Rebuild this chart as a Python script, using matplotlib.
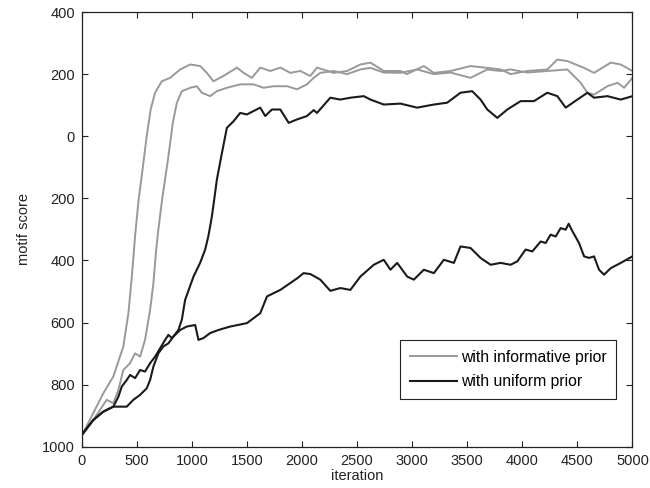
import matplotlib
matplotlib.use("Agg")
import matplotlib.pyplot as plt
from matplotlib.ticker import FixedLocator, FixedFormatter

plt.rcParams['font.family'] = ['Liberation Sans', 'DejaVu Sans']

# informative prior, run A
inf_a_iter = [0, 105, 196, 287, 378, 424, 455, 485, 515, 560, 590, 626, 666, 727, 803, 894, 985,
              1075, 1136, 1196, 1287, 1409, 1470, 1545, 1621, 1712, 1803, 1894, 1985, 2075, 2136,
              2288, 2409, 2530, 2621, 2742, 2894, 2952, 3106, 3197, 3348, 3530, 3682, 3803, 3894,
              4045, 4227, 4318, 4409, 4561, 4651, 4803, 4894, 5000]
inf_a_val = [-965, -892, -828, -774, -677, -570, -452, -320, -210, -86, 0, 86, 140, 177, 188, 215, 231,
             226, 204, 177, 194, 221, 204, 188, 221, 210, 221, 204, 210, 194, 221,
             204, 210, 231, 237, 210, 210, 200, 226, 204, 210, 226, 220, 215, 200,
             210, 215, 247, 242, 220, 204, 237, 231, 210]

# informative prior, run B
inf_b_iter = [0, 105, 227, 287, 333, 378, 439, 485, 530, 575, 621, 651, 676, 696, 730, 787, 827, 864,
              909, 985, 1045, 1091, 1166, 1227, 1318, 1439, 1560, 1651, 1742, 1864, 1955, 2045,
              2106, 2166, 2288, 2409, 2530, 2621, 2742, 2894, 3045, 3197, 3348, 3530, 3682, 3803,
              3894, 4045, 4227, 4409, 4530, 4591, 4651, 4773, 4864, 4924, 5000]
inf_b_val = [-965, -914, -849, -860, -817, -753, -731, -699, -710, -656, -559, -473, -365, -300, -204,
             -65, 43, 108, 145, 156, 161, 140, 129, 145, 156, 167, 167, 156, 161, 161, 151, 167,
             188, 204, 210, 200, 215, 220, 205, 204, 215, 200, 205, 188, 215, 210,
             215, 205, 210, 215, 172, 140, 134, 161, 172, 156, 188]

# uniform prior, run C
uni_c_iter = [0, 105, 196, 287, 348, 409, 469, 530, 590, 621, 651, 696, 742, 787, 833, 878, 909, 939,
              1015, 1075, 1121, 1151, 1182, 1203, 1227, 1273, 1318, 1378, 1439, 1500, 1560, 1621,
              1666, 1727, 1803, 1879, 1955, 2045, 2106, 2136, 2257, 2348, 2439, 2561, 2621, 2742,
              2894, 3045, 3197, 3318, 3439, 3545, 3621, 3682, 3773, 3864, 3985, 4106, 4227, 4318,
              4394, 4500, 4591, 4651, 4773, 4894, 5000]
uni_c_val = [-962, -914, -887, -871, -871, -871, -849, -833, -812, -785, -742, -699, -677, -667, -645,
             -624, -591, -527, -452, -408, -365, -320, -258, -204, -140, -54, 27, 48, 75, 70, 81, 92,
             65, 86, 86, 43, 54, 65, 84, 75, 124, 118, 124, 129, 118, 102,
             105, 92, 102, 108, 140, 145, 118, 86, 59, 86, 113, 113, 140, 129,
             92, 118, 140, 124, 129, 118, 129]

# uniform prior, run D
uni_d_iter = [0, 105, 196, 287, 333, 364, 409, 439, 485, 530, 575, 621, 666, 712, 757, 787, 818, 894,
              954, 1030, 1060, 1106, 1166, 1242, 1348, 1500, 1621, 1682, 1803, 1955, 2015, 2076,
              2166, 2257, 2348, 2439, 2530, 2652, 2742, 2803, 2864, 2955, 3015, 3106, 3197, 3288,
              3379, 3439, 3530, 3621, 3712, 3803, 3894, 3955, 4030, 4091, 4167, 4212, 4257, 4303,
              4348, 4394, 4421, 4455, 4515, 4561, 4606, 4651, 4697, 4742, 4803, 4894, 5000]
uni_d_val = [-962, -914, -887, -871, -839, -806, -785, -769, -779, -753, -758, -731, -710, -683, -656,
             -640, -650, -624, -613, -608, -656, -650, -634, -624, -613, -602, -570, -516, -495,
             -458, -441, -444, -462, -498, -489, -495, -452, -414, -398, -430, -408, -452, -462,
             -430, -441, -398, -408, -355, -360, -392, -414, -408, -414, -403, -365, -371, -339,
             -344, -317, -323, -296, -301, -282, -306, -344, -387, -392, -387, -430, -446, -425,
             -408, -387]

x_ticks = [0, 500, 1000, 1500, 2000, 2500, 3000, 3500, 4000, 4500, 5000]
y_ticks = [400, 200, 0, -200, -400, -600, -800, -1000]
y_tick_labels = ['400', '200', '0', '200', '400', '600', '800', '1000']

gray = '#999999'
black = '#1a1a1a'

fig = plt.figure(figsize=(6.5, 4.88), dpi=100)
ax = fig.add_axes([0.1257, 0.0846, 0.8473, 0.8908])

ax.plot(inf_a_iter, inf_a_val, color=gray, lw=1.4, label='with informative prior')
ax.plot(inf_b_iter, inf_b_val, color=gray, lw=1.4)
ax.plot(uni_c_iter, uni_c_val, color=black, lw=1.5, label='with uniform prior')
ax.plot(uni_d_iter, uni_d_val, color=black, lw=1.5)

ax.set_xlim(0, 5000)
ax.set_ylim(-1000, 400)
ax.xaxis.set_major_locator(FixedLocator(x_ticks))
ax.yaxis.set_major_locator(FixedLocator(y_ticks))
ax.yaxis.set_major_formatter(FixedFormatter(y_tick_labels))
ax.tick_params(direction='in', top=True, right=True, length=4, width=0.8,
               labelsize=10.5, colors='#222222', pad=5)
for s in ax.spines.values():
    s.set_linewidth(0.9)
    s.set_color('#222222')

ax.set_xlabel('iteration', fontsize=10.5, labelpad=1, color='#222222')
ax.set_ylabel('motif score', fontsize=10.5, labelpad=8, color='#222222')

leg = ax.legend(loc='lower right', bbox_to_anchor=(0.971, 0.11), borderaxespad=0,
                fontsize=11.3, handlelength=3.0, handletextpad=0.3, labelspacing=0.62,
                borderpad=0.6, fancybox=False, frameon=True, framealpha=1)
leg.get_frame().set_edgecolor('#222222')
leg.get_frame().set_linewidth(0.8)

fig.savefig('out.png', dpi=100)
